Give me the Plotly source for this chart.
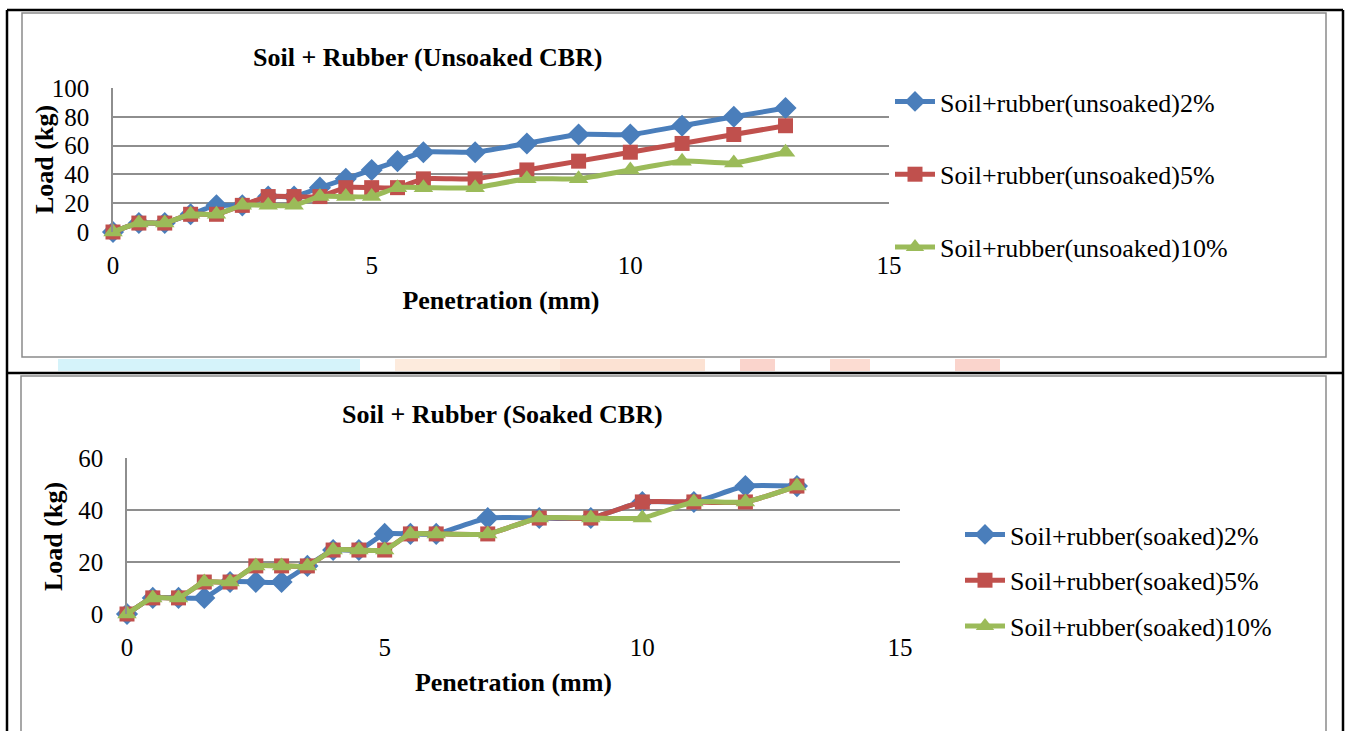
import plotly.graph_objects as go

W, H = 1348, 731

# Penetration readings (mm)
penetration = [0, 0.5, 1, 1.5, 2, 2.5, 3, 3.5, 4, 4.5, 5, 5.5, 6, 7, 8, 9, 10, 11, 12, 13]

# Unsoaked CBR loads (kg)
unsoaked_2 = [0, 6.2, 6.2, 12.3, 18.5, 18.5, 24.6, 24.6, 30.8, 36.9, 43.1, 49.2, 55.4, 55.4, 61.5, 67.7, 67.7, 73.8, 80.0, 86.1]
unsoaked_5 = [0, 6.2, 6.2, 12.3, 12.3, 18.5, 24.6, 24.6, 24.6, 30.8, 30.8, 30.8, 36.9, 36.9, 43.1, 49.2, 55.4, 61.5, 67.7, 73.8]
unsoaked_10 = [0, 6.2, 6.2, 12.3, 12.3, 18.5, 18.5, 18.5, 24.6, 24.6, 24.6, 30.8, 30.8, 30.8, 36.9, 36.9, 43.1, 49.2, 48.0, 55.4]

# Soaked CBR loads (kg)
soaked_2 = [0, 6.2, 6.2, 6.2, 12.3, 12.3, 12.3, 18.5, 24.6, 24.6, 30.8, 30.8, 30.8, 36.9, 36.9, 36.9, 43.1, 43.1, 49.2, 49.2]
soaked_5 = [0, 6.2, 6.2, 12.3, 12.3, 18.5, 18.5, 18.5, 24.6, 24.6, 24.6, 30.8, 30.8, 30.8, 36.9, 36.9, 43.1, 43.1, 43.1, 49.2]
soaked_10 = [0, 6.2, 6.2, 12.3, 12.3, 18.5, 18.5, 18.5, 24.6, 24.6, 24.6, 30.8, 30.8, 30.8, 36.9, 36.9, 36.9, 43.1, 43.1, 49.2]

unsoaked_names = ["Soil+rubber(unsoaked)2%", "Soil+rubber(unsoaked)5%", "Soil+rubber(unsoaked)10%"]
soaked_names = ["Soil+rubber(soaked)2%", "Soil+rubber(soaked)5%", "Soil+rubber(soaked)10%"]

COLORS = ["#4A7EBB", "#C0504D", "#9BBB59"]
SYMBOLS = ["diamond", "square", "triangle-up"]
SIZES = [17, 15, 17]
FONT = "Liberation Serif"
GRID = "#8E8E8E"


def fx(px):
    return px / W


def fy(py):
    return 1 - py / H


fig = go.Figure()

for i, (vals, name) in enumerate(zip([unsoaked_2, unsoaked_5, unsoaked_10], unsoaked_names)):
    fig.add_trace(go.Scatter(
        x=penetration, y=vals, name=name, mode="lines+markers",
        line=dict(color=COLORS[i], width=5, shape="spline", smoothing=0.5),
        marker=dict(symbol=SYMBOLS[i], size=SIZES[i], color=COLORS[i]),
        xaxis="x", yaxis="y", legend="legend", legendgroup=f"u{i}",
        cliponaxis=False,
    ))

for i, (vals, name) in enumerate(zip([soaked_2, soaked_5, soaked_10], soaked_names)):
    fig.add_trace(go.Scatter(
        x=penetration, y=vals, name=name, mode="lines+markers",
        line=dict(color=COLORS[i], width=5, shape="spline", smoothing=0.5),
        marker=dict(symbol=SYMBOLS[i], size=SIZES[i], color=COLORS[i]),
        xaxis="x2", yaxis="y2", legend="legend2", legendgroup=f"s{i}",
        cliponaxis=False,
    ))

tick_font = dict(family=FONT, size=25, color="#000000")
title_font = dict(family=FONT, size=26, color="#000000", weight="bold")
legend_font = dict(family=FONT, size=26, color="#000000")

common_x = dict(range=[0, 15], tickvals=[0, 5, 10, 15], showgrid=False, zeroline=False,
                showline=False, ticks="", tickfont=tick_font, ticklabelstandoff=16)
common_y = dict(showgrid=True, gridcolor=GRID, gridwidth=1.5, zeroline=False,
                showline=True, linecolor=GRID, linewidth=1.5, ticks="",
                tickfont=tick_font, ticklabelstandoff=17)

fig.update_layout(
    width=W, height=H,
    margin=dict(l=0, r=0, t=0, b=0, autoexpand=False),
    paper_bgcolor="#FFFFFF", plot_bgcolor="rgba(0,0,0,0)",
    font=dict(family=FONT, color="#000000"),
    xaxis=dict(domain=[fx(113), fx(889)], anchor="y",
               title=dict(text="Penetration (mm)", font=title_font, standoff=12), **common_x),
    yaxis=dict(domain=[fy(232), fy(88)], anchor="x", range=[0, 100], tickvals=[0, 20, 40, 60, 80, 100],
               **common_y),
    xaxis2=dict(domain=[fx(127), fx(900)], anchor="y2",
                title=dict(text="Penetration (mm)", font=title_font, standoff=12), **common_x),
    yaxis2=dict(domain=[fy(614), fy(458)], anchor="x2", range=[0, 60], tickvals=[0, 20, 40, 60],
                **common_y),
    legend=dict(x=fx(890), y=fy(78), xanchor="left", yanchor="top", font=legend_font,
                tracegroupgap=36, bgcolor="rgba(0,0,0,0)", itemwidth=40),
    legend2=dict(x=fx(960), y=fy(511), xanchor="left", yanchor="top", font=legend_font,
                 tracegroupgap=9, bgcolor="rgba(0,0,0,0)", itemwidth=40),
    showlegend=True,
)

# Chart titles
fig.add_annotation(text="<b>Soil + Rubber (Unsoaked CBR)</b>", x=fx(428), y=fy(58),
                   xref="paper", yref="paper", xanchor="center", yanchor="middle", showarrow=False,
                   font=dict(family=FONT, size=26, color="#000000"))
fig.add_annotation(text="<b>Soil + Rubber (Soaked CBR)</b>", x=fx(503), y=fy(415),
                   xref="paper", yref="paper", xanchor="center", yanchor="middle", showarrow=False,
                   font=dict(family=FONT, size=26, color="#000000"))

# Vertical axis titles
fig.add_annotation(text="<b>Load (kg)</b>", x=fx(44), y=fy(160), textangle=-90,
                   xref="paper", yref="paper", xanchor="center", yanchor="middle", showarrow=False,
                   font=dict(family=FONT, size=26, color="#000000"))
fig.add_annotation(text="<b>Load (kg)</b>", x=fx(53), y=fy(537), textangle=-90,
                   xref="paper", yref="paper", xanchor="center", yanchor="middle", showarrow=False,
                   font=dict(family=FONT, size=26, color="#000000"))

# Faint background tint strip between the two chart boxes
tints = [(58, 360, "#D5F3FA"), (395, 640, "#FDEBDD"), (560, 705, "#FCE2D3"),
         (740, 775, "#FAD4CC"), (830, 870, "#FCDCD2"), (955, 1000, "#FAD4CC")]
for x0, x1, c in tints:
    fig.add_shape(type="rect", xref="paper", yref="paper", x0=fx(x0), x1=fx(x1),
                  y0=fy(371), y1=fy(359), line=dict(width=0), fillcolor=c, layer="below")

# Chart frames
fig.add_shape(type="rect", xref="paper", yref="paper", x0=fx(22), x1=fx(1326), y0=fy(357), y1=fy(13),
              line=dict(color="#8A8A8A", width=1.5), layer="below")
fig.add_shape(type="rect", xref="paper", yref="paper", x0=fx(21), x1=fx(1326), y0=fy(745), y1=fy(376),
              line=dict(color="#8A8A8A", width=1.5), layer="below")

# Table rules
for x0, y0, x1, y1 in [(7, 10, 1343, 10), (7, 373, 1343, 373), (7, 10, 7, 740), (1343, 10, 1343, 740)]:
    fig.add_shape(type="line", xref="paper", yref="paper", x0=fx(x0), y0=fy(y0), x1=fx(x1), y1=fy(y1),
                  line=dict(color="#000000", width=2.5))

fig.write_html("out.html")
